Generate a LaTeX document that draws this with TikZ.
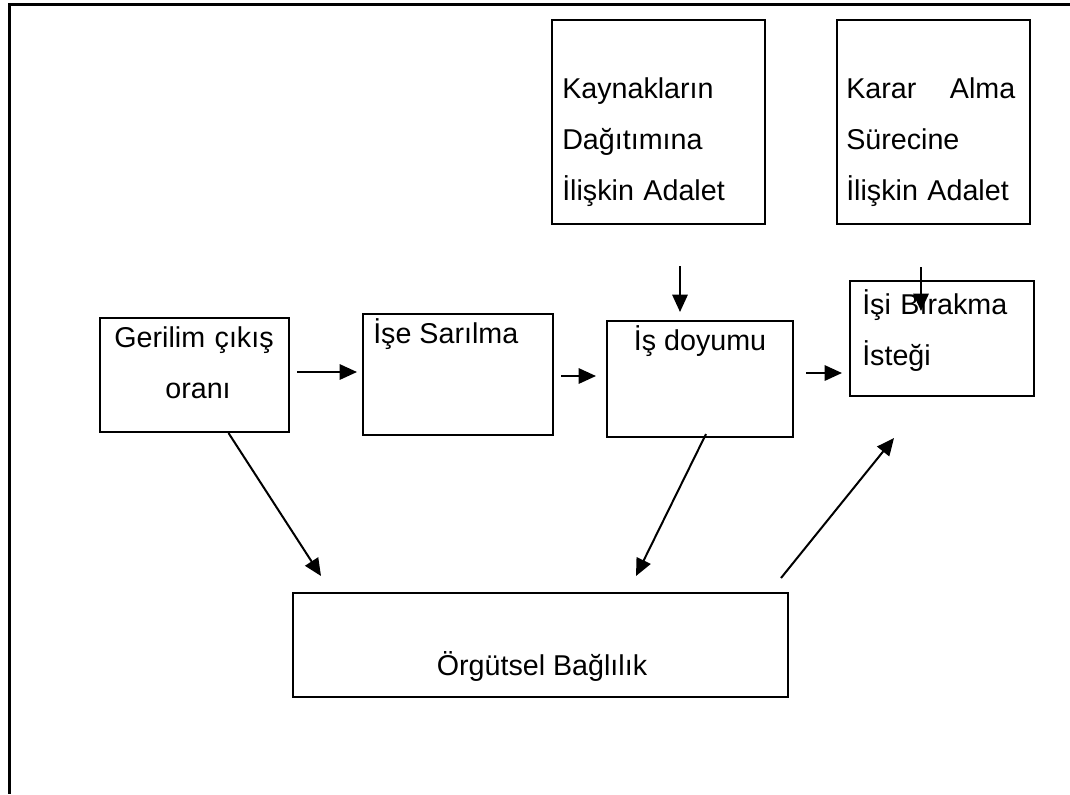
\documentclass[tikz,border=0pt]{standalone}
\usepackage{fontspec}
\setmainfont{Liberation Sans}
\usetikzlibrary{arrows.meta, positioning, calc, fit}

\tikzset{
  box/.style={draw, line width=1.5pt, inner sep=0pt},
  txt/.style={inner sep=0pt, font=\fontsize{21.5pt}{38.25pt}\selectfont},
  arr/.style={-{Triangle[length=13pt, width=11.5pt]}, line width=1.5pt}
}

\begin{document}
\begin{tikzpicture}[x=0.75pt, y=-0.75pt]
  \useasboundingbox (0,0) rectangle (1070,794);
  % page frame
  \draw[line width=2.25pt] (1070,4) -- (9,4) -- (9,794);

  % boxes
  \node[box, fit={(552,20) (765,224)}] (kaynak) {};
  \node[box, fit={(837,20) (1030,224)}] (karar) {};
  \node[box, fit={(100,318) (289,432)}] (gerilim) {};
  \node[box, fit={(363,314) (553,435)}] (sarilma) {};
  \node[box, fit={(607,321) (793,437)}] (doyum) {};
  \node[box, fit={(850,281) (1034,396)}] (birakma) {};
  \node[box, fit={(293,593) (788,697)}] (orgut) {};

  % texts
  \node[txt, anchor=base west, align=left, text width=150pt] (kaynakT) at (562,98)
    {Kaynakların\\Dağıtımına\\İlişkin Adalet};
  \node[txt, anchor=base west, align=left, text width=126.75pt] (kararT) at (846,98)
    {Karar\hfill Alma\\Sürecine\\İlişkin Adalet};
  \node[txt, anchor=base, align=center, text width=120pt] (gerilimT) at (194,347)
    {Gerilim çıkış\\\hspace*{6pt}oranı};
  \node[txt, anchor=base west] (sarilmaT) at (373,343) {İşe Sarılma};
  \node[txt, anchor=base] (doyumT) at (700,350) {İş doyumu};
  \node[txt, anchor=base west, align=left, text width=130pt] (birakmaT) at (862,314)
    {İşi Bırakma\\İsteği};
  \node[txt, anchor=base] (orgutT) at (542,675) {Örgütsel Bağlılık};

  % arrows
  \draw[arr] ($(gerilim.east)+(7,-3)$) -- ($(sarilma.west)+(-5,-2.5)$);
  \draw[arr] ($(sarilma.east)+(7,1.5)$) -- ($(doyum.west)+(-10,-3)$);
  \draw[arr] ($(doyum.east)+(12,-6)$) -- ($(birakma.west)+(-7,34.5)$);
  \draw[arr] ($(kaynak.south)+(21.5,41)$) -- ($(doyum.north)+(-20,-8)$);
  \draw[arr] ($(karar.south)+(-12.5,42)$) -- ($(birakma.north)+(-21,31)$);
  \draw[arr] ($(gerilim.south)+(34,0)$) -- ($(orgut.north west)+(29,-16)$);
  \draw[arr] ($(doyum.south)+(6,-4)$) -- ($(orgut.north)+(95.5,-16)$);
  \draw[arr] ($(orgut.north east)+(-8,-14)$) -- ($(birakma.south west)+(45,41)$);
\end{tikzpicture}
\end{document}
